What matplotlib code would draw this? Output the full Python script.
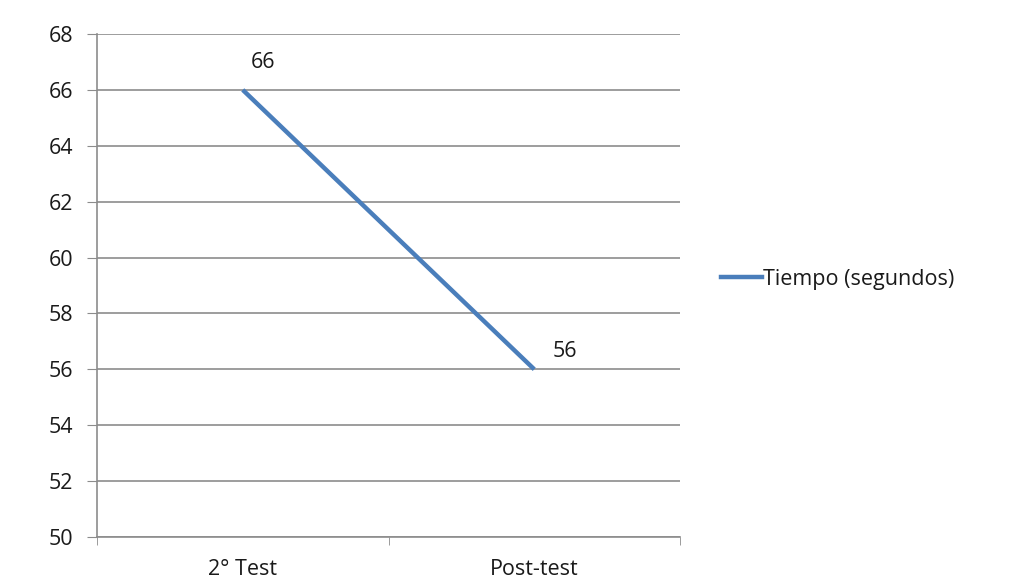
import matplotlib
matplotlib.use("Agg")
import matplotlib.pyplot as plt
from matplotlib.lines import Line2D

categories = ["2° Test", "Post-test"]
values = [66, 56]
series_name = "Tiempo (segundos)"
yticks = [50, 52, 54, 56, 58, 60, 62, 64, 66, 68]
label_offsets = [(6, 12), (13, 5)]

plt.rcParams['font.family'] = ['Open Sans', 'DejaVu Sans']
color = "#4A7EBB"
grid_c = "#8C8C8C"
txt_c = "#1a1a1a"
fs = 15.5

fig = plt.figure(figsize=(10.09, 5.81), dpi=100)
ax = fig.add_axes([97/1009, 44/581, (680-97)/1009, (537-34)/581])
x = [i + 0.5 for i in range(len(categories))]
ax.plot(x, values, color=color, lw=3.2, solid_capstyle='butt')
for xi, v, off in zip(x, values, label_offsets):
    ax.annotate(str(v), (xi, v), xytext=off, textcoords='offset points',
                fontsize=fs, color=txt_c, ha='left', va='bottom')

ax.set_xlim(0, len(categories))
ax.set_ylim(50, 68)
ax.set_yticks(yticks)
ax.set_yticklabels([str(t) for t in yticks], fontsize=fs, color=txt_c)
ax.set_xticks(x)
ax.set_xticklabels(categories, fontsize=fs, color=txt_c)
ax.set_xticks([0, 1, 2], minor=True)
ax.tick_params(axis='x', which='major', length=0, pad=16)
ax.tick_params(axis='x', which='minor', length=6, color=grid_c, direction='out')
ax.tick_params(axis='y', length=7, color=grid_c, direction='out', pad=10)
ax.grid(axis='y', color=grid_c, lw=1.2)
ax.set_axisbelow(True)
for s in ['top', 'right']:
    ax.spines[s].set_visible(False)
for s in ['left', 'bottom']:
    ax.spines[s].set_color(grid_c)
    ax.spines[s].set_linewidth(1.2)

handle = Line2D([], [], color=color, lw=3.2)
fig.legend([handle], [series_name], loc='center left', bbox_to_anchor=(712/1009, 1 - 279/581),
           frameon=False, fontsize=fs, handlelength=1.9, handletextpad=0.05,
           labelcolor=txt_c, borderaxespad=0, borderpad=0.4)

fig.savefig("out.png", dpi=100)
